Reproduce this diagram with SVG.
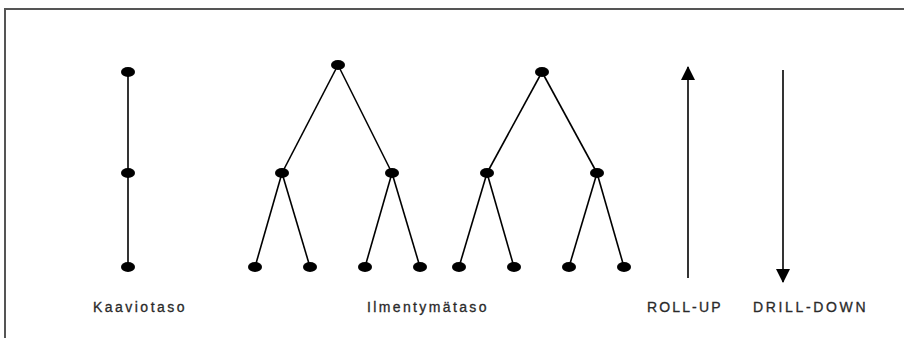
<svg xmlns="http://www.w3.org/2000/svg" width="904" height="338" viewBox="0 0 904 338">
<defs>
<style>
.frame{fill:none;stroke:#555;stroke-width:2}
.edge{stroke:#000;stroke-width:1.6;fill:none}
.node{fill:#000}
.lbl{font-family:"Liberation Sans",Arial,sans-serif;font-size:14px;fill:#2a2a2a;letter-spacing:1.5px;stroke:#2a2a2a;stroke-width:0.3}
</style>
<marker id="ah" viewBox="0 0 14 14" refX="13" refY="7" markerWidth="14" markerHeight="14" markerUnits="userSpaceOnUse" orient="auto">
<path d="M0,0 L14,7 L0,14 Z" fill="#000"/>
</marker>
</defs>
<rect width="904" height="338" fill="#fff"/>
<path class="frame" d="M5,340 L5,9 L906,9"/>
<g id="connectors">
<line class="edge" x1="128" y1="72" x2="128" y2="173"/>
<line class="edge" x1="128" y1="173" x2="128" y2="267"/>
<line class="edge" x1="338" y1="65" x2="282" y2="173"/>
<line class="edge" x1="338" y1="65" x2="392" y2="173"/>
<line class="edge" x1="282" y1="173" x2="255" y2="267"/>
<line class="edge" x1="282" y1="173" x2="310" y2="267"/>
<line class="edge" x1="392" y1="173" x2="365" y2="267"/>
<line class="edge" x1="392" y1="173" x2="420" y2="267"/>
<line class="edge" x1="542" y1="72" x2="487" y2="173"/>
<line class="edge" x1="542" y1="72" x2="597" y2="173"/>
<line class="edge" x1="487" y1="173" x2="459" y2="267"/>
<line class="edge" x1="487" y1="173" x2="514" y2="267"/>
<line class="edge" x1="597" y1="173" x2="569" y2="267"/>
<line class="edge" x1="597" y1="173" x2="624" y2="267"/>
<line id="rollup" class="edge" x1="688" y1="278" x2="688" y2="67" marker-end="url(#ah)"/>
<line id="drilldown" class="edge" x1="783" y1="70" x2="783" y2="282" marker-end="url(#ah)"/>
</g>
<g id="schema">
<g id="s1"><ellipse class="node" cx="128" cy="72" rx="7" ry="5"/></g>
<g id="s2"><ellipse class="node" cx="128" cy="173" rx="7" ry="5"/></g>
<g id="s3"><ellipse class="node" cx="128" cy="267" rx="7" ry="5"/></g>
</g>
<g id="tree1">
<g id="t1r"><ellipse class="node" cx="338" cy="65" rx="7" ry="5"/></g>
<g id="t1a"><ellipse class="node" cx="282" cy="173" rx="7" ry="5"/></g>
<g id="t1b"><ellipse class="node" cx="392" cy="173" rx="7" ry="5"/></g>
<g id="t1l1"><ellipse class="node" cx="255" cy="267" rx="7" ry="5"/></g>
<g id="t1l2"><ellipse class="node" cx="310" cy="267" rx="7" ry="5"/></g>
<g id="t1l3"><ellipse class="node" cx="365" cy="267" rx="7" ry="5"/></g>
<g id="t1l4"><ellipse class="node" cx="420" cy="267" rx="7" ry="5"/></g>
</g>
<g id="tree2">
<g id="t2r"><ellipse class="node" cx="542" cy="72" rx="7" ry="5"/></g>
<g id="t2a"><ellipse class="node" cx="487" cy="173" rx="7" ry="5"/></g>
<g id="t2b"><ellipse class="node" cx="597" cy="173" rx="7" ry="5"/></g>
<g id="t2l1"><ellipse class="node" cx="459" cy="267" rx="7" ry="5"/></g>
<g id="t2l2"><ellipse class="node" cx="514" cy="267" rx="7" ry="5"/></g>
<g id="t2l3"><ellipse class="node" cx="569" cy="267" rx="7" ry="5"/></g>
<g id="t2l4"><ellipse class="node" cx="624" cy="267" rx="7" ry="5"/></g>
</g>
<g id="labels">
<text class="lbl" x="93" y="312" textLength="93">Kaaviotaso</text>
<text class="lbl" x="367" y="312" textLength="121">Ilmentymätaso</text>
<text class="lbl" x="647" y="312" textLength="75">ROLL-UP</text>
<text class="lbl" x="753" y="312" textLength="114">DRILL-DOWN</text>
</g>
</svg>
